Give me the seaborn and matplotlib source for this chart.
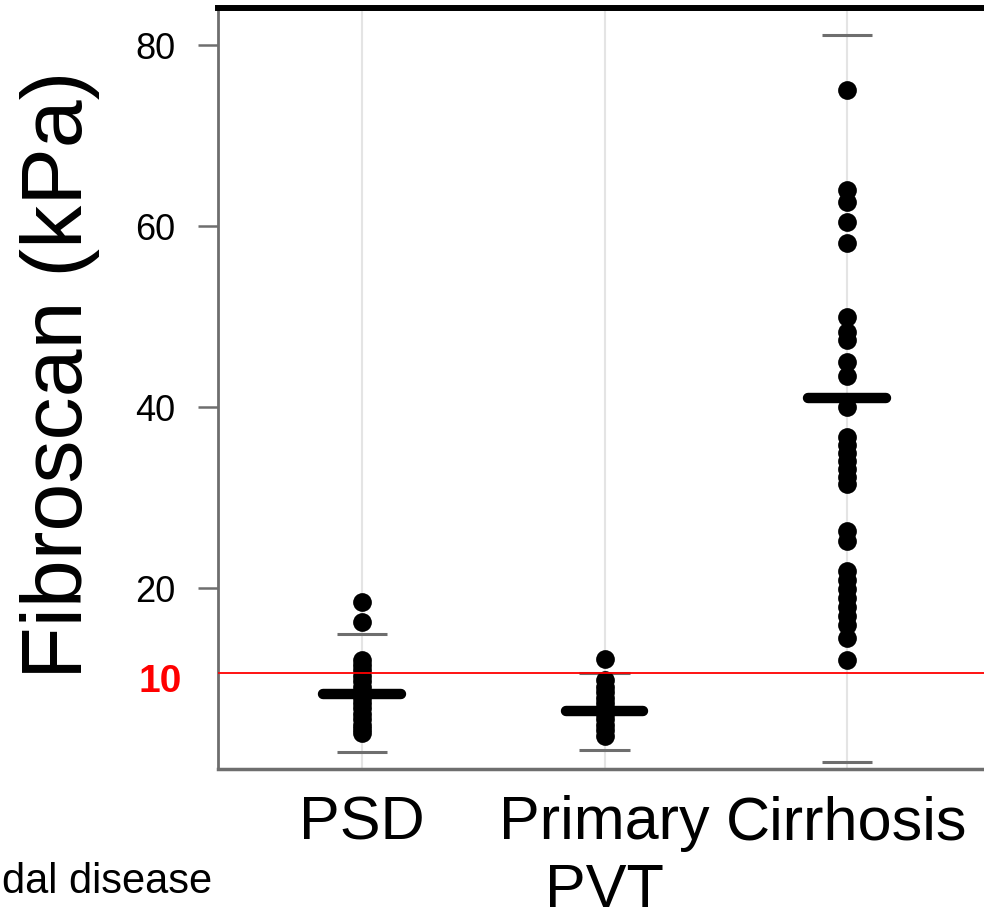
import matplotlib
matplotlib.use("Agg")
import matplotlib.pyplot as plt
import pandas as pd
import seaborn as sns

GROUPS = ["PSD", "Primary\nPVT", "Cirrhosis"]
PSD_VALUES = [18.5, 16.3, 12.1, 11.5, 10.9, 10.3, 9.7, 9.1, 8.5, 7.9, 7.3,
              6.7, 6.1, 5.5, 4.9, 4.4, 4.0]
PVT_VALUES = [12.2, 9.8, 9.1, 8.5, 7.9, 7.3, 6.7, 6.1, 5.5, 4.9, 4.3, 3.7]
CIRRHOSIS_VALUES = [75.0, 64.0, 62.7, 60.5, 58.1, 49.9, 48.3, 47.4, 45.0, 43.4,
                    40.0, 36.7, 35.8, 34.9, 34.0, 33.1, 32.3, 31.5, 26.3, 25.2,
                    21.9, 20.9, 19.9, 18.9, 17.9, 16.9, 15.9, 14.5, 12.0]
GROUP_MEANS = [8.3, 6.4, 41.0]
WHISKER_LOW = [1.9, 2.1, 0.8]
WHISKER_HIGH = [14.9, 10.6, 81.1]
THRESHOLD = 10.6
THRESHOLD_LABEL = "10"
Y_TICKS = [20, 40, 60, 80]
Y_LABEL = "Fibroscan (kPa)"
SIDE_TEXT = "dal disease"

df = pd.concat([
    pd.DataFrame({"group": GROUPS[0], "kpa": PSD_VALUES}),
    pd.DataFrame({"group": GROUPS[1], "kpa": PVT_VALUES}),
    pd.DataFrame({"group": GROUPS[2], "kpa": CIRRHOSIS_VALUES}),
])

sns.set_style("white")
plt.rcParams["font.family"] = ["Liberation Sans", "DejaVu Sans"]

fig = plt.figure(figsize=(9.84, 9.19), dpi=100)
ax = fig.add_axes([218 / 984, 1 - 769 / 919, (984 - 218) / 984, (769 - 8) / 919])

sns.stripplot(data=df, x="group", y="kpa", order=GROUPS, jitter=False,
              color="black", size=13.5, linewidth=0, ax=ax, zorder=3)

xs = list(range(len(GROUPS)))
means = ax.hlines(GROUP_MEANS, [x - 0.16 for x in xs], [x + 0.16 for x in xs],
                  color="black", lw=7.5, zorder=4)
means.set_capstyle("round")
ax.hlines(WHISKER_HIGH, [x - 0.105 for x in xs], [x + 0.105 for x in xs],
          color="#6e6e6e", lw=2.2, zorder=2)
ax.hlines(WHISKER_LOW, [x - 0.105 for x in xs], [x + 0.105 for x in xs],
          color="#6e6e6e", lw=2.2, zorder=2)

ax.axhline(THRESHOLD, color="red", lw=1.3, zorder=5)
ax.annotate(THRESHOLD_LABEL, xy=(0, THRESHOLD), xycoords=("axes fraction", "data"),
            xytext=(-58, -19), textcoords="offset pixels", ha="center",
            va="baseline", color="red", fontweight="bold", fontsize=28,
            annotation_clip=False)

ax.set_xlim(-0.594, 2.565)
ax.set_ylim(0, 84.1)
ax.set_yticks(Y_TICKS)
ax.set_xlabel("")
ax.set_ylabel("")
ax.grid(axis="x", color="#e4e4e4", lw=1.5)
ax.grid(axis="y", visible=False)
ax.set_axisbelow(True)

ax.tick_params(axis="y", length=14.4, width=1.8, color="#6e6e6e", pad=16.5,
               labelsize=26, labelcolor="black", left=True)
ax.tick_params(axis="x", length=0, pad=19, labelsize=44, labelcolor="black")
for lab in ax.get_xticklabels():
    lab.set_linespacing(1.25)

ax.spines["top"].set_color("black")
ax.spines["top"].set_linewidth(4.3)
ax.spines["left"].set_color("#6e6e6e")
ax.spines["left"].set_linewidth(2)
ax.spines["bottom"].set_color("#6e6e6e")
ax.spines["bottom"].set_linewidth(2.5)
ax.spines["right"].set_visible(False)

fig.text(60 / 984, 1 - 375 / 919, Y_LABEL, rotation=90, ha="center",
         va="center", fontsize=62, color="black")
fig.text(2 / 984, 1 - 893 / 919, SIDE_TEXT, ha="left", va="baseline",
         fontsize=30, color="black")

fig.savefig("out.png", dpi=100)
